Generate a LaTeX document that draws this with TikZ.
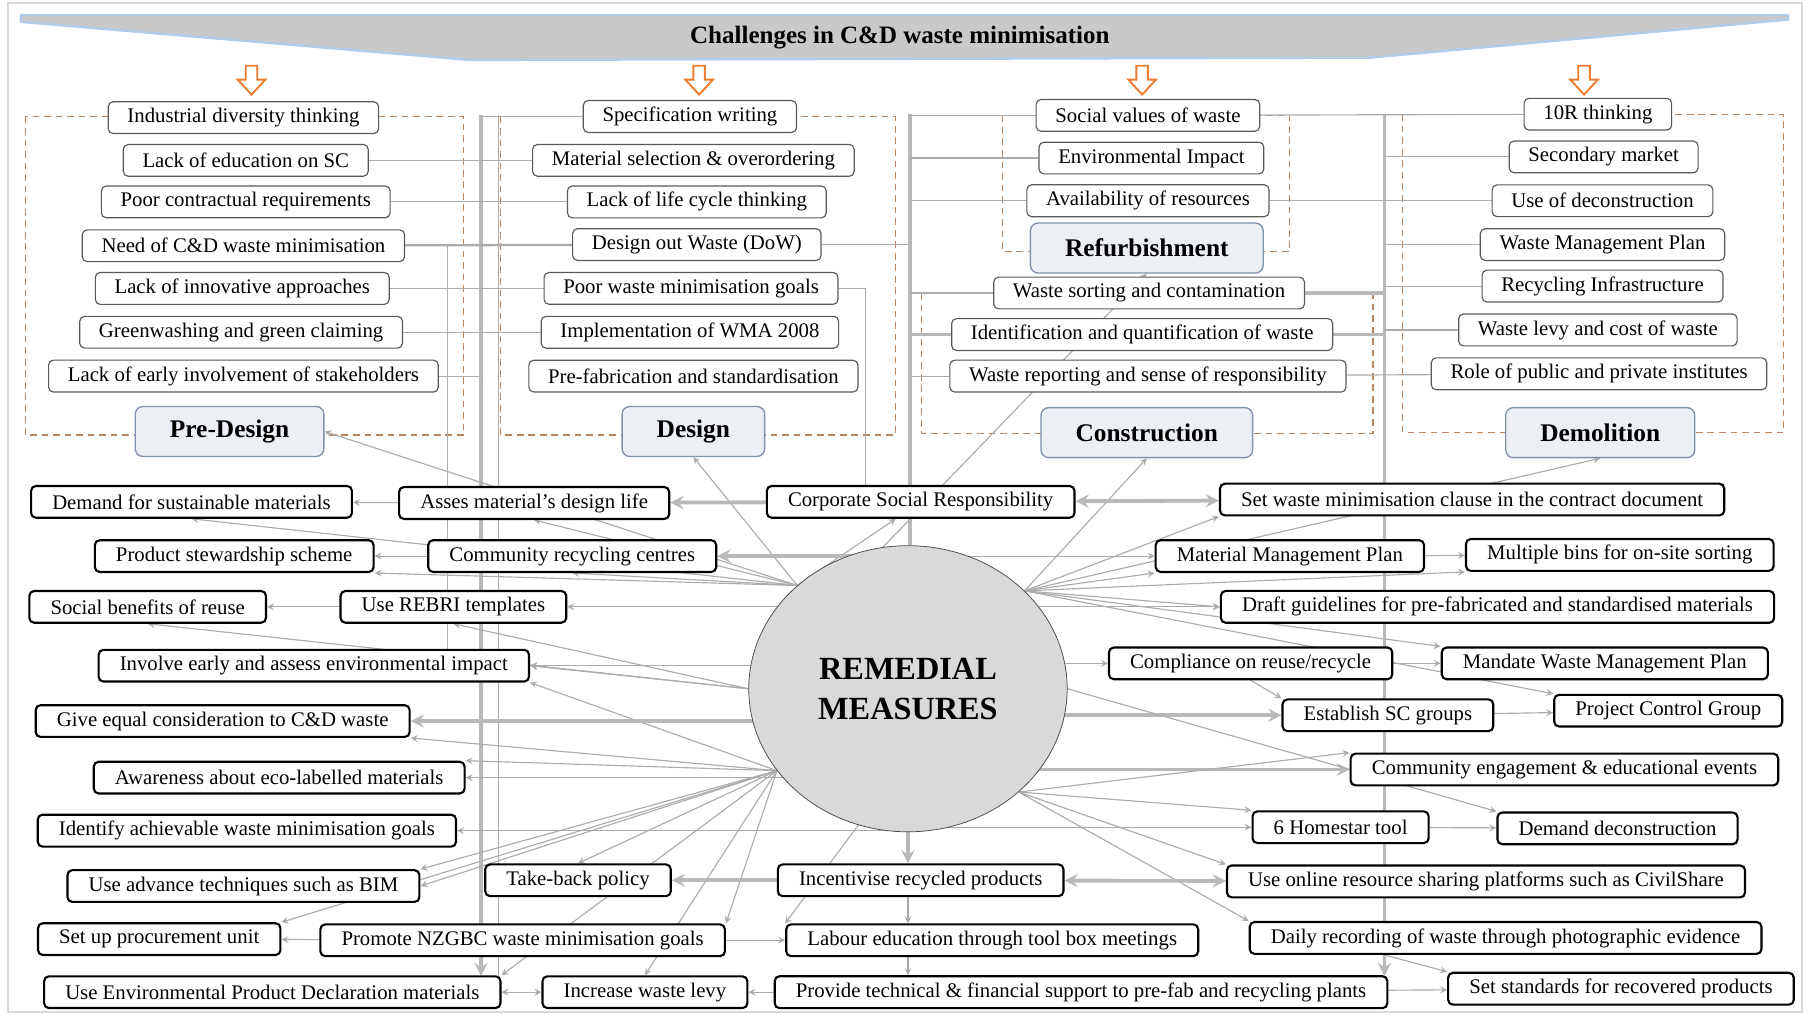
\documentclass[tikz,border=0pt]{standalone}
\usepackage{fontspec}
\setmainfont{Liberation Serif}
\usetikzlibrary{shapes.geometric, backgrounds}

\definecolor{framebrown}{RGB}{184,134,96}
\definecolor{arroworange}{RGB}{237,125,49}
\definecolor{stagefill}{RGB}{236,239,243}
\definecolor{stageline}{RGB}{128,146,172}
\definecolor{bannerglow}{RGB}{176,204,232}

\tikzset{
  challenge/.style={rectangle, draw=black!65, fill=white, rounded corners=2.5pt, line width=0.6pt, minimum height=16.5pt, inner xsep=10pt, font=\fontsize{10.8}{12}\selectfont},
  stage/.style={rectangle, draw=stageline, fill=stagefill, rounded corners=4pt, line width=0.7pt, minimum height=26pt, inner xsep=18pt, font=\bfseries\fontsize{13.2}{15}\selectfont},
  measure/.style={rectangle, draw=black, fill=white, rounded corners=2.5pt, line width=1.1pt, minimum height=16.5pt, inner xsep=11pt, font=\fontsize{10.8}{12}\selectfont},
  phaseframe/.style={draw=framebrown, line width=0.6pt, dash pattern=on 3.5pt off 2.5pt},
  banner/.style={fill=gray!42, draw=bannerglow, line width=1.2pt, line join=round},
  downarrow/.style={draw=arroworange, fill=white, line width=1pt, line join=miter},
  link/.style={draw=gray!65, line width=0.6pt},
  ray/.style={link, ->},
  trunk/.style={draw=gray!55, line width=2pt},
  flow/.style={trunk, ->}
}

\begin{document}
\begin{tikzpicture}[x=0.6pt, y=-0.6pt, >=stealth]
\useasboundingbox (0,0) rectangle (1568,879);
\draw[gray!30, line width=1pt] (7,3) rectangle (1562,877);

% banner
\draw[banner] (18,13) -- (1550,13) -- (1550,17) -- (1188,50) -- (407,52) -- (18,19) -- cycle;
\node (title) at (780,33) [font=\bfseries\fontsize{13}{15}\selectfont] {Challenges in C\&D waste minimisation};

\draw[downarrow] (213,57) -- ++(10,0) -- ++(0,12) -- ++(7,0) -- ++(-12,13) -- ++(-12,-13) -- ++(7,0) -- cycle;
\draw[downarrow] (601,57) -- ++(10,0) -- ++(0,12) -- ++(7,0) -- ++(-12,13) -- ++(-12,-13) -- ++(7,0) -- cycle;
\draw[downarrow] (985,57) -- ++(10,0) -- ++(0,12) -- ++(7,0) -- ++(-12,13) -- ++(-12,-13) -- ++(7,0) -- cycle;
\draw[downarrow] (1368,57) -- ++(10,0) -- ++(0,12) -- ++(7,0) -- ++(-12,13) -- ++(-12,-13) -- ++(7,0) -- cycle;

% pre-design
\node (pd1) at (211,102) [challenge] {Industrial diversity thinking};
\node (pd2) at (213,139) [challenge] {Lack of education on SC};
\node (pd3) at (213,175) [challenge] {Poor contractual requirements};
\node (pd4) at (211,213) [challenge] {Need of C\&D waste minimisation};
\node (pd5) at (210,250) [challenge] {Lack of innovative approaches};
\node (pd6) at (209,288) [challenge] {Greenwashing and green claiming};
\node (pd7) at (211,326) [challenge] {Lack of early involvement of stakeholders};
\node (pdlab) at (199,374) [stage] {Pre-Design};

% design
\node (de1) at (598,101) [challenge] {Specification writing};
\node (de2) at (601,139) [challenge] {Material selection \& overordering};
\node (de3) at (604,175) [challenge] {Lack of life cycle thinking};
\node (de4) at (604,212) [challenge] {Design out Waste (DoW)};
\node (de5) at (599,250) [challenge] {Poor waste minimisation goals};
\node (de6) at (598,288) [challenge] {Implementation of WMA 2008};
\node (de7) at (601,326) [challenge] {Pre-fabrication and standardisation};
\node (delab) at (601,374) [stage] {Design};

% refurbishment
\node (rf1) at (995,100) [challenge] {Social values of waste};
\node (rf2) at (998,137) [challenge] {Environmental Impact};
\node (rf3) at (995,174) [challenge] {Availability of resources};
\node (rflab) at (994,215) [stage] {Refurbishment};

% construction
\node (co1) at (996,254) [challenge] {Waste sorting and contamination};
\node (co2) at (990,290) [challenge] {Identification and quantification of waste};
\node (co3) at (995,326) [challenge] {Waste reporting and sense of responsibility};
\node (colab) at (994,375) [stage] {Construction};

% demolition
\node (dm1) at (1385,99) [challenge] {10R thinking};
\node (dm2) at (1390,136) [challenge] {Secondary market};
\node (dm3) at (1389,174) [challenge] {Use of deconstruction};
\node (dm4) at (1389,212) [challenge] {Waste Management Plan};
\node (dm5) at (1389,248) [challenge] {Recycling Infrastructure};
\node (dm6) at (1385,286) [challenge] {Waste levy and cost of waste};
\node (dm7) at (1386,324) [challenge] {Role of public and private institutes};
\node (dmlab) at (1387,375) [stage] {Demolition};

% remedial measures
\node (rm) at (787,597) [ellipse, draw=black!70, fill=gray!30, minimum width=165.6pt, minimum height=148.8pt, inner sep=0pt, align=center, font=\bfseries\fontsize{16.8}{21}\selectfont] {REMEDIAL\\MEASURES};

\node (dsm) at (166,435) [measure] {Demand for sustainable materials};
\node (amd) at (463,436) [measure] {Asses material’s design life};
\node (csr) at (798,435) [measure] {Corporate Social Responsibility};
\node (pss) at (203,482) [measure] {Product stewardship scheme};
\node (crc) at (496,482) [measure] {Community recycling centres};
\node (sbr) at (128,526) [measure] {Social benefits of reuse};
\node (rebri) at (393,526) [measure] {Use REBRI templates};
\node (iea) at (272,577) [measure] {Involve early and assess environmental impact};
\node (gec) at (193,625) [measure] {Give equal consideration to C\&D waste};
\node (ael) at (242,674) [measure] {Awareness about eco-labelled materials};
\node (iaw) at (214,720) [measure] {Identify achievable waste minimisation goals};
\node (bim) at (211,768) [measure] {Use advance techniques such as BIM};
\node (tbp) at (501,763) [measure] {Take-back policy};
\node (spu) at (138,814) [measure] {Set up procurement unit};
\node (nzg) at (453,815) [measure] {Promote NZGBC waste minimisation goals};
\node (epd) at (236,860) [measure] {Use Environmental Product Declaration materials};
\node (iwl) at (559,860) [measure] {Increase waste levy};
\node (irp) at (798,763) [measure] {Incentivise recycled products};
\node (lab) at (860,815) [measure] {Labour education through tool box meetings};
\node (pts) at (937,860) [measure] {Provide technical \& financial support to pre-fab and recycling plants};
\node (swc) at (1276,433) [measure] {Set waste minimisation clause in the contract document};
\node (mmp) at (1118,482) [measure] {Material Management Plan};
\node (mbs) at (1404,481) [measure] {Multiple bins for on-site sorting};
\node (dgp) at (1298,526) [measure] {Draft guidelines for pre-fabricated and standardised materials};
\node (cry) at (1084,575) [measure] {Compliance on reuse/recycle};
\node (mwp) at (1391,575) [measure] {Mandate Waste Management Plan};
\node (esc) at (1203,620) [measure] {Establish SC groups};
\node (pcg) at (1446,616) [measure] {Project Control Group};
\node (cee) at (1356,667) [measure] {Community engagement \& educational events};
\node (hst) at (1162,717) [measure] {6 Homestar tool};
\node (ddc) at (1402,718) [measure] {Demand deconstruction};
\node (uor) at (1288,764) [measure] {Use online resource sharing platforms such as CivilShare};
\node (drw) at (1305,813) [measure] {Daily recording of waste through photographic evidence};
\node (ssr) at (1405,857) [measure] {Set standards for recovered products};

\coordinate (hubNW) at (rm.137);
\coordinate (hubSW) at (rm.212);
\coordinate (hubNE) at (rm.40);
\coordinate (hubSE) at (rm.317);
\coordinate (tA) at (417,100);
\coordinate (tAb) at (417,846);
\coordinate (tA2) at (432,100);
\coordinate (tA2b) at (432,846);
\coordinate (tB) at (789,99);
\coordinate (tC) at (1200,99);
\coordinate (tCb) at (1200,846);
\coordinate (tD) at (750,421);
\coordinate (tE) at (388,563);

\begin{scope}[on background layer]
% stage frames
\draw[phaseframe] (22,101) rectangle (402,377);
\draw[phaseframe] (434,101) rectangle (776,377);
\draw[phaseframe] (869,100) rectangle (1118,218);
\draw[phaseframe] (799,254) rectangle (1190,376);
\draw[phaseframe] (1216,99) rectangle (1546,375);

% trunks
\draw[flow] (tA) -- (tAb);
\draw[link] (tA2) -- (tA2b);
\draw[trunk] (tB) -- (tB |- rm.north);
\draw[flow] (tC) -- (tCb);

% challenge links
\draw[link] (de1.west) -- (de1.west -| tA);
\draw[link] (pd2) -- (de2);
\draw[link] (pd3) -- (de3);
\draw[link, line width=1.2pt] (pd4) -- (de4);
\draw[link] (pd5) -- (de5);
\draw[link] (pd6) -- (de6);
\draw[link] (pd7.east) -- (pd7.east -| tA);
\draw[link] (pd4.east -| tE) -- (tE);
\draw[link] (de4.east) -- (de4.east -| tB);
\draw[link] (de5.east) -| (tD);
\draw[link] (rf1.west) -- (rf1.west -| tB);
\draw[link] (rf1) -- (dm1);
\draw[link] (rf2.west) -- (rf2.west -| tB);
\draw[link] (rf3.west) -- (rf3.west -| tB);
\draw[link] (rf3) -- (dm3);
\draw[link] (co1.west) -- (co1.west -| tB);
\draw[trunk] (co1.east) -- (co1.east -| tC);
\draw[trunk] (co2.west) -- (co2.west -| tB);
\draw[trunk] (co2.east) -- (co2.east -| tC);
\draw[link] (co3.west) -- (co3.west -| tB);
\draw[link] (co3) -- (dm7);
\draw[link] (dm2.west) -- (dm2.west -| tC);
\draw[link] (dm4.west) -- (dm4.west -| tC);
\draw[link] (dm5.west) -- (dm5.west -| tC);
\draw[link] (dm6.west) -- (dm6.west -| tC);

% measures to the stages
\draw[ray] (hubNW) -- (pdlab.east);
\draw[ray] (hubNW) -- (delab.south);
\draw[ray] (rm.100) -- (rflab.south);
\draw[ray] (hubNE) -- (colab.south);
\draw[ray] (hubNE) -- (dmlab.south);

% left side
\draw[ray] (hubNW) -- (csr);
\draw[ray] (hubNW) -- (amd.south);
\draw[ray] (hubNW) -- (dsm.south);
\draw[ray] (hubNW) -- (pss.south east);
\draw[ray] (hubNW) -- (crc.south);
\draw[flow] (crc.east -| rm) -- (crc.east);
\draw[ray] (rebri.east -| rm) -- (rebri.east);
\draw[ray] (rm.west) -- (sbr.south);
\draw[ray] (rm.west) -- (rebri.south);
\draw[ray] (iea.east -| rm) -- (iea.east);
\draw[ray] (rm.west) -- (iea.east);
\draw[ray] (hubSW) -- (iea.south east);
\draw[flow] (gec.east -| rm) -- (gec.east);
\draw[ray] (hubSW) -- (gec.south east);
\draw[ray] (ael.east -| rm) -- (ael.east);
\draw[ray] (hubSW) -- (ael.north east);
\draw[ray] (iaw.east -| rm) -- (iaw.east);
\draw[ray] (hubSW) -- (bim.east);
\draw[ray] (hubSW) -- (bim.north east);
\draw[ray] (hubSW) -- (tbp.north);
\draw[ray] (hubSW) -- (spu.north east);
\draw[ray] (hubSW) -- (nzg.north east);
\draw[ray] (hubSW) -- (epd.north east);
\draw[ray] (hubSW) -- (iwl.north);
\draw[ray] (rm.250) -- (lab.north west);
\draw[flow] (rm.south) -- (irp.north -| rm.south);
\draw[ray] (irp.south -| rm) -- (lab.north -| rm);
\draw[ray] (lab.south -| rm) -- (pts.north -| rm);
\draw[flow] (csr) -- (amd);
\draw[ray] (amd) -- (dsm);
\draw[ray] (crc) -- (pss);
\draw[ray] (rebri) -- (sbr);
\draw[flow] (irp) -- (tbp);
\draw[ray] (nzg) -- (spu);
\draw[ray] (nzg) -- (lab);
\draw[ray] (pts) -- (iwl);
\draw[link, <->] (iwl) -- (epd);
\draw[ray] (pts) -- (ssr);

% right side
\draw[flow, <->] (csr) -- (swc);
\draw[ray] (hubNE) -- (swc.south west);
\draw[ray] (hubNE) -- (mmp.south west);
\draw[ray] (mmp.west -| rm) -- (mmp.west);
\draw[ray] (hubNE) -- (mbs.south west);
\draw[ray] (hubNE) -- (dgp.west);
\draw[ray] (dgp.west -| rm) -- (dgp.west);
\draw[ray] (hubNE) -- (mwp.north west);
\draw[ray] (hubNE) -- (pcg.north west);
\draw[ray] (cry.west -| rm) -- (cry.west);
\draw[flow] (esc.west -| rm) -- (esc.west);
\draw[flow] (cee.west -| rm) -- (cee.west);
\draw[ray] (hubSE) -- (cee.north west);
\draw[ray] (hst.west -| rm) -- (hst.west);
\draw[ray] (hubSE) -- (hst.north west);
\draw[ray] (rm.east) -- (ddc.north west);
\draw[ray] (hubSE) -- (uor.north west);
\draw[ray] (hubSE) -- (drw.north west);
\draw[ray] (drw.south -| tC) -- (ssr.north west);
\draw[ray] (mmp) -- (mbs);
\draw[ray] (cry) -- (mwp);
\draw[ray] (cry.south) -- (esc.north west);
\draw[ray] (esc) -- (pcg);
\draw[ray] (hst) -- (ddc);
\draw[flow, <->] (irp) -- (uor);
\end{scope}
\end{tikzpicture}
\end{document}
